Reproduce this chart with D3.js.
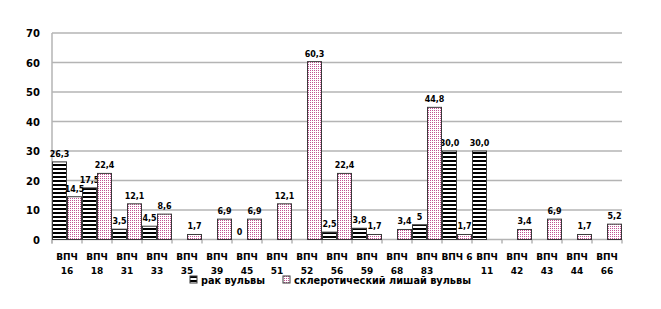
<!DOCTYPE html>
<html>
<head>
<meta charset="utf-8">
<script src="https://cdn.jsdelivr.net/npm/d3@7"></script>
<style>
body{margin:0;background:#fff}
text{font-family:"DejaVu Sans",Verdana,sans-serif;font-weight:bold}
</style>
</head>
<body>
<svg></svg>
<script>
var categories=["ВПЧ 16","ВПЧ 18","ВПЧ 31","ВПЧ 33","ВПЧ 35","ВПЧ 39","ВПЧ 45","ВПЧ 51","ВПЧ 52","ВПЧ 56","ВПЧ 59","ВПЧ 68","ВПЧ 83","ВПЧ 6","ВПЧ 11","ВПЧ 42","ВПЧ 43","ВПЧ 44","ВПЧ 66"]
var seriesNames=["рак вульвы","склеротический лишай вульвы"]
// null = no bar, no label
var cancer=[26.3,17.5,3.5,4.5,null,null,0,null,null,2.5,3.8,null,5,30.0,30.0,null,null,null,null]
var lichen=[14.5,22.4,12.1,8.6,1.7,6.9,6.9,12.1,60.3,22.4,1.7,3.4,44.8,1.7,null,3.4,6.9,1.7,5.2]
var yTicks=[0,10,20,30,40,50,60,70]

var scren={width:661,height:309}
var margins={top:33,left:52,right:39,bottom:70}
var svg=d3.select("svg").attr("width",scren.width).attr("height",scren.height)

var defs=svg.append("defs")
var stripes=defs.append("pattern").attr("id","stripes")
  .attr("patternUnits","userSpaceOnUse").attr("width",4).attr("height",4)
stripes.append("rect").attr("width",4).attr("height",4).attr("fill","#fff")
stripes.append("rect").attr("width",4).attr("height",2).attr("fill","#000")
var dots=defs.append("pattern").attr("id","dots")
  .attr("patternUnits","userSpaceOnUse").attr("width",2).attr("height",2)
dots.append("rect").attr("width",2).attr("height",2).attr("fill","#fff")
dots.append("rect").attr("width",1).attr("height",1).attr("fill","#c25294")

var fills=["url(#stripes)","url(#dots)"]

var xScale=d3.scaleBand().domain(categories)
  .range([margins.left,scren.width-margins.right]).paddingInner(0).paddingOuter(0)
var xSub=d3.scaleBand().domain([0,1]).range([0,xScale.bandwidth()])
var yScale=d3.scaleLinear().domain([0,70]).range([239.5,margins.top])

// grid
svg.append("g").selectAll("line").data(yTicks).enter().append("line")
  .attr("x1",margins.left).attr("x2",scren.width-margins.right)
  .attr("y1",function(d){return yScale(d)}).attr("y2",function(d){return yScale(d)})
  .attr("stroke","#b4b4b4").attr("stroke-width",1.5)

svg.append("line").attr("x1",margins.left).attr("x2",margins.left)
  .attr("y1",yScale(70)).attr("y2",yScale(0)+4).attr("stroke","#b4b4b4").attr("stroke-width",1.5)

// y labels
svg.append("g").selectAll("text").data(yTicks).enter().append("text")
  .attr("x",40).attr("y",function(d){return yScale(d)+4})
  .attr("text-anchor","end").attr("font-size",10).text(function(d){return d})

// x ticks
var bounds=categories.map(function(c){return xScale(c)}).concat([scren.width-margins.right])
svg.append("g").selectAll("line").data(bounds).enter().append("line")
  .attr("x1",function(d){return d}).attr("x2",function(d){return d})
  .attr("y1",yScale(0)).attr("y2",yScale(0)+4).attr("stroke","#b4b4b4").attr("stroke-width",1.5)

// bars
var series=[cancer,lichen]
series.forEach(function(vals,s){
  var g=svg.append("g")
  var items=categories.map(function(c,i){return {c:c,v:vals[i]}}).filter(function(d){return d.v!==null})
  g.selectAll("rect").data(items.filter(function(d){return d.v>0})).enter().append("rect")
    .attr("x",function(d){return xScale(d.c)+xSub(s)+0.5})
    .attr("y",function(d){return yScale(d.v)})
    .attr("width",xSub.bandwidth()-1)
    .attr("height",function(d){return yScale(0)-yScale(d.v)})
    .attr("fill",fills[s]).attr("stroke","#3a3a3a").attr("stroke-width",1)
  g.selectAll("text").data(items).enter().append("text")
    .attr("x",function(d){return xScale(d.c)+xSub(s)+xSub.bandwidth()/2})
    .attr("y",function(d){return yScale(d.v)-5})
    .attr("text-anchor","middle").attr("font-size",8)
    .text(function(d){return d3.format(".1f")(d.v).replace(".",",").replace(/^0,0$/,"0").replace(/^5,0$/,"5")})
})

// x labels
svg.append("g").selectAll("text").data(categories).enter().append("text")
  .attr("text-anchor","middle").attr("font-size",9)
  .attr("transform",function(d){return "translate("+(xScale(d)+xScale.bandwidth()/2)+",0)"})
  .each(function(d){
    var t=d3.select(this)
    var lines=d.length<=5?[d]:d.split(" ")
    lines.forEach(function(l,i){t.append("tspan").attr("x",0).attr("y",260+i*14).text(l)})
  })

// legend
var legend=svg.append("g")
var lx=[190,283]
seriesNames.forEach(function(n,i){
  legend.append("rect").attr("x",lx[i]).attr("y",276).attr("width",7).attr("height",7)
    .attr("fill",fills[i]).attr("stroke","#3a3a3a")
  legend.append("text").attr("x",lx[i]+11).attr("y",284).attr("font-size",10)
    .attr("textLength",i==0?64:177).attr("lengthAdjust","spacingAndGlyphs").text(n)
})
</script>
</body>
</html>
